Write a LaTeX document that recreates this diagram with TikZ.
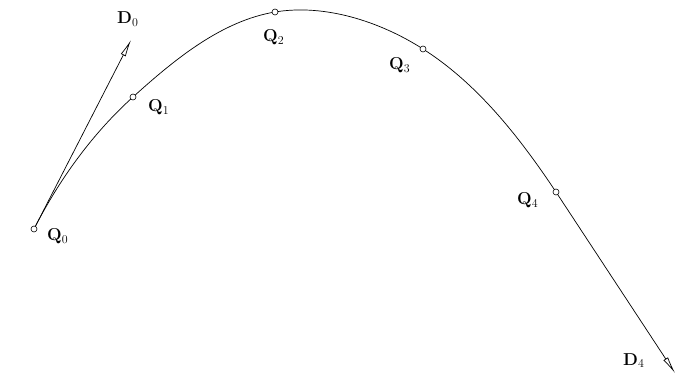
\documentclass[tikz,border=0pt]{standalone}
\usetikzlibrary{arrows.meta}
\begin{document}
\begin{tikzpicture}[x=1pt,y=-1pt,
  curve/.style={line width=0.7pt},
  pt/.style={circle,draw,fill=white,line width=0.6pt,inner sep=0pt,minimum size=6pt},
  lab/.style={font=\fontsize{17}{20}\selectfont,anchor=base west,inner sep=0pt},
  tan/.style={line width=0.7pt,-{Latex[open,length=17pt,width=5.5pt]}}]
\useasboundingbox (0,0) rectangle (683,374);
\coordinate (Q0) at (34,229);
\coordinate (Q1) at (133,97);
\coordinate (Q2) at (275,12);
\coordinate (Q3) at (423,49);
\coordinate (Q4) at (556,192);
\coordinate (D0) at (131,40);
\coordinate (D4) at (675,373);
\draw[tan] (Q0) -- (D0);
\draw[tan] (Q4) -- (D4);
\draw[curve] (Q0) .. controls (59,180) and (92,134) .. (Q1)
  .. controls (174,60) and (221,21) .. (Q2)
  .. controls (325,3.7) and (380,21.5) .. (Q3)
  .. controls (478,84) and (520,138) .. (Q4);
\foreach \p in {Q0,Q1,Q2,Q3,Q4} \node[pt] (n\p) at (\p) {};
\node[lab] (lQ0) at (47,241) {$\mathbf{Q}_0$};
\node[lab] (lQ1) at (148,112) {$\mathbf{Q}_1$};
\node[lab] (lQ2) at (263,42) {$\mathbf{Q}_2$};
\node[lab] (lQ3) at (389,70) {$\mathbf{Q}_3$};
\node[lab] (lQ4) at (517,205) {$\mathbf{Q}_4$};
\node[lab] (lD0) at (117,24) {$\mathbf{D}_0$};
\node[lab] (lD4) at (623,365) {$\mathbf{D}_4$};
\end{tikzpicture}
\end{document}
